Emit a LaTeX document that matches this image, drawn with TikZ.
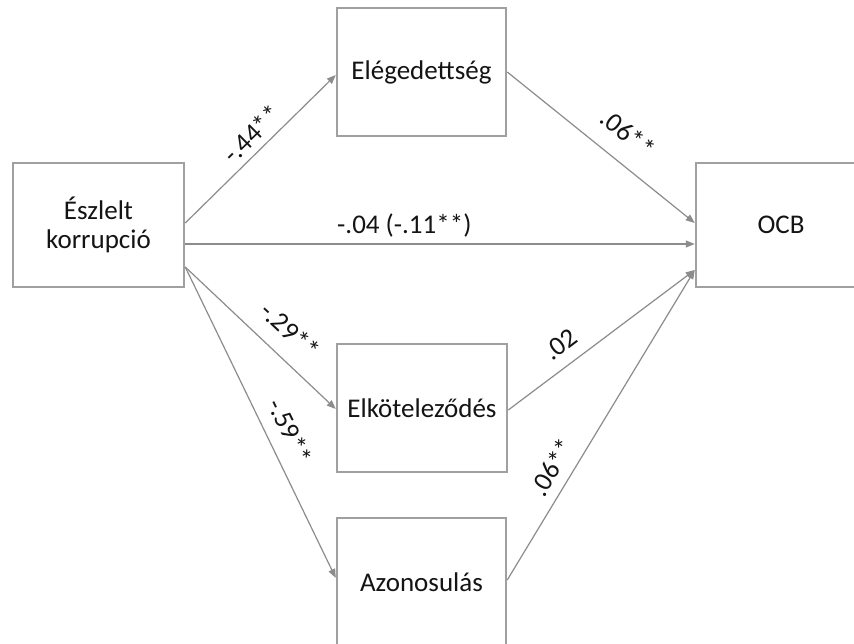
\documentclass[tikz,border=0pt]{standalone}
\usepackage{fontspec}
\setmainfont{Carlito}
\usetikzlibrary{arrows.meta}
\definecolor{boxgray}{HTML}{A0A0A0}
\definecolor{linegray}{HTML}{8C8C8C}
\definecolor{txt}{HTML}{141414}
\begin{document}
\begin{tikzpicture}[x=1pt,y=-1pt,
  box/.style={draw=boxgray, line width=2.5pt, fill=white, minimum width=170pt,
    minimum height=128pt, inner sep=0pt, align=center, text=txt,
    font=\fontsize{27}{29}\selectfont},
  conn/.style={draw=linegray, line width=1.2pt, -{Triangle[length=9pt,width=7pt]}},
  lbl/.style={sloped, anchor=center, text=txt, inner sep=0pt,
    font=\fontsize{27}{29}\selectfont}]
\useasboundingbox (0,0) rectangle (854,644);
\fill[white] (0,0) rectangle (854,644);
\clip (0,0) rectangle (854,644);

\node[box, minimum width=171pt, minimum height=124pt] (esz) at (98.5,225) {Észlelt\\korrupció};
\node[box, minimum width=169pt] (ele) at (421.5,72) {Elégedettség};
\node[box] (elk) at (422,408) {Elköteleződés};
\node[box, minimum width=169pt] (azo) at (421.5,582) {Azonosulás};
\node[box, minimum height=124pt] (ocb) at (781,225) {OCB};

\draw[conn] ([yshift=2pt]esz.east) -- ([yshift=-3pt]ele.west)
  node[lbl, pos=0.52, yshift=17pt] {-.44**};
\draw[conn] (ele.east) -- ([yshift=2pt]ocb.west)
  node[lbl, pos=0.55, yshift=28pt] {.06**};
\draw[conn] ([yshift=-19pt]esz.east) -- ([yshift=-19pt]ocb.west)
  node[lbl, pos=0.43, yshift=19pt] {-.04 (-.11**)};
\draw[conn] ([yshift=-42pt]esz.east) -- ([yshift=-1pt]elk.west)
  node[lbl, pos=0.58, yshift=26pt] {-.29**};
\draw[conn] ([yshift=-42pt]esz.east) -- ([yshift=4pt]azo.west)
  node[lbl, pos=0.56, yshift=23pt] {-.59**};
\draw[conn] ([yshift=-2pt]elk.east) -- ([yshift=-45pt]ocb.west)
  node[lbl, pos=0.35, yshift=21pt] {.02};
\draw[conn] ([yshift=2pt]azo.east) -- ([yshift=-45pt]ocb.west)
  node[lbl, pos=0.33, yshift=20pt] {.06**};
\end{tikzpicture}
\end{document}
